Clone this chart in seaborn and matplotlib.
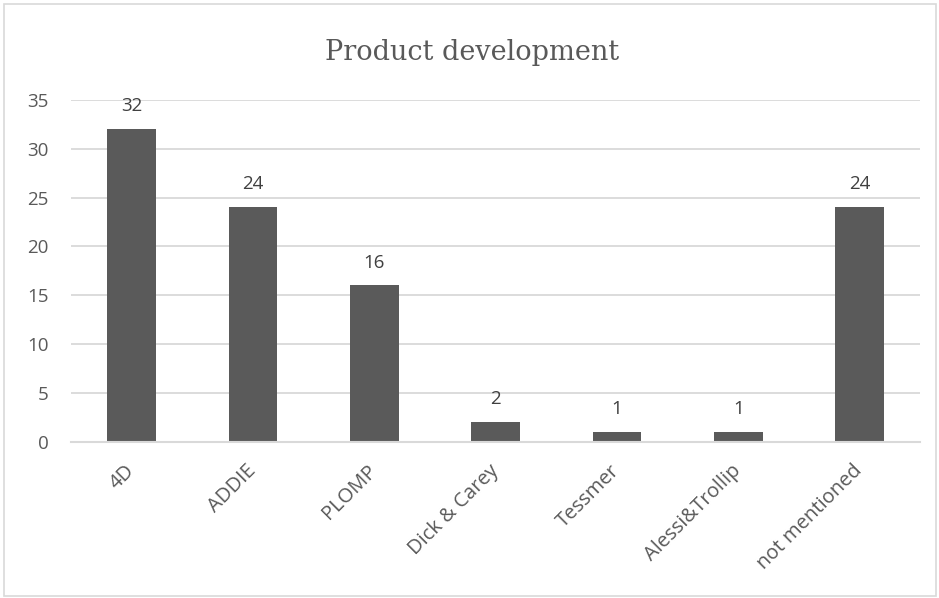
import matplotlib
matplotlib.use("Agg")
import matplotlib.pyplot as plt
import seaborn as sns
import pandas as pd
from matplotlib.patches import Rectangle

categories = ["4D", "ADDIE", "PLOMP", "Dick & Carey", "Tessmer", "Alessi&Trollip", "not mentioned"]
counts = [32, 24, 16, 2, 1, 1, 24]
y_ticks = [0, 5, 10, 15, 20, 25, 30, 35]
title = "Product development"

df = pd.DataFrame({"model": categories, "count": counts})

sns.set_theme(style="white")
plt.rcParams["font.family"] = ["Open Sans", "DejaVu Sans"]

fig = plt.figure(figsize=(9.39, 5.98), dpi=100)
ax = fig.add_axes([0.0756, 0.2614, 0.9044, 0.5714])

sns.barplot(data=df, x="model", y="count", color="#5a5a5a", saturation=1,
            width=0.4, ax=ax, linewidth=0)

ax.set_ylim(0, 35)
ax.set_yticks(y_ticks)
ax.set_xlim(-0.5, len(categories) - 0.5)
ax.yaxis.grid(True, color="#d9d9d9", linewidth=1.3)
ax.set_axisbelow(True)
for side in ["left", "right", "top"]:
    ax.spines[side].set_visible(False)
ax.spines["bottom"].set_color("#d9d9d9")
ax.spines["bottom"].set_linewidth(1.5)
ax.set_xlabel("")
ax.set_ylabel("")
ax.tick_params(axis="both", length=0, labelsize=13.5, colors="#595959")
ax.tick_params(axis="x", labelsize=14.5, pad=19)
ax.tick_params(axis="y", pad=16)
plt.setp(ax.get_xticklabels(), rotation=45, ha="right", va="center",
         rotation_mode="anchor")

for container in ax.containers:
    ax.bar_label(container, labels=[str(v) for v in counts], padding=10,
                 fontsize=13.5, color="#404040")

fig.text(0.503, 0.913, title, ha="center", va="center", fontsize=19.5,
         color="#595959", family=["DejaVu Serif"])

fig.patches.append(Rectangle((0.004, 0.004), 0.993, 0.99, transform=fig.transFigure,
                             fill=False, edgecolor="#d9d9d9", linewidth=1.2))

fig.savefig("out.png", dpi=100)
